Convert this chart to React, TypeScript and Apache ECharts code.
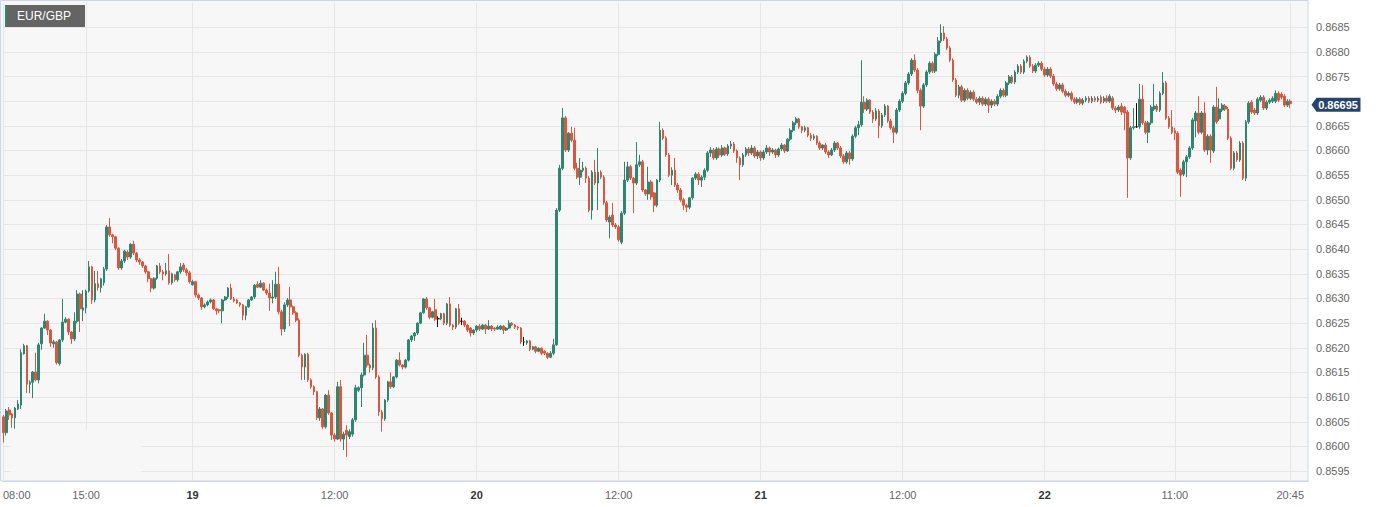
import { useEffect, useRef } from 'react';
import * as echarts from 'echarts';

const SYMBOL = 'EUR/GBP';
// Candle values are written in units of 0.00001 above BASE_PRICE: [open, close, low, high]
const BASE_PRICE = 0.86;
const LAST_PRICE = 0.86695;
const START_DAY = 18;
const START_MINUTE = 8 * 60;
const STEP_MINUTES = 15;
const PAD_SLOTS = 6;

const tickTimes = ['18 08:00', '18 15:00', '19 00:00', '19 12:00', '20 00:00', '20 12:00', '21 00:00', '21 12:00', '22 00:00', '22 11:00', '22 20:45'];
const tickLabels = ['08:00', '15:00', '19', '12:00', '20', '12:00', '21', '12:00', '22', '11:00', '20:45'];

const Y_MIN = 0.8593;
const Y_MAX = 0.86899;

const candles: number[][] = [
  [60,28,8,64],[28,72,22,76],[74,64,54,80],[66,58,38,68],[58,78,36,80],[76,86,74,94],[84,190,76,197],[188,204,186,208],[204,126,108,206],[126,130,108,134],
  [130,151,98,153],[151,135,132,190],[135,206,128,210],[208,240,196,242],[240,254,238,269],[254,236,226,256],[236,210,202,238],[208,212,200,216],[212,170,166,214],[168,216,164,218],
  [216,252,212,299],[252,258,250,262],[258,232,226,260],[232,218,208,234],[218,254,214,272],[254,309,250,317],[309,279,232,312],[276,281,254,317],[281,315,270,318],[315,364,312,376],
  [364,297,289,366],[297,330,292,356],[330,322,316,356],[322,340,312,342],[332,360,326,364],[360,445,356,449],[445,429,425,463],[429,425,412,431],[425,402,398,427],[402,362,358,404],
  [362,376,358,380],[376,396,372,399],[394,384,378,398],[384,410,380,412],[410,392,388,417],[392,378,374,394],[378,374,368,382],[374,366,362,376],[366,354,350,368],[354,340,333,356],
  [340,321,313,342],[321,341,318,343],[341,366,338,368],[366,354,350,372],[354,350,337,358],[350,356,346,372],[356,332,328,390],[332,350,328,352],[348,338,334,350],[338,354,334,356],
  [354,364,350,372],[368,358,354,372],[358,352,346,362],[352,334,330,356],[328,334,326,338],[334,307,302,336],[307,301,297,310],[301,283,277,303],[283,287,280,290],[287,293,284,296],
  [293,297,290,300],[297,279,277,299],[279,275,267,281],[277,275,270,279],[275,297,250,299],[297,303,295,305],[303,321,299,323],[321,299,297,330],[299,295,292,303],[297,291,289,299],
  [291,287,283,293],[287,266,256,289],[266,283,256,285],[283,297,281,299],[297,303,295,305],[303,327,299,329],[329,323,321,335],[323,331,321,337],[331,317,315,333],[317,311,307,320],
  [311,301,275,330],[301,303,290,337],[303,329,299,354],[329,273,268,364],[273,238,225,277],[238,287,232,292],[287,297,283,301],[297,283,244,323],[283,271,267,286],[271,256,252,274],
  [256,185,181,260],[185,161,135,188],[161,187,135,189],[187,135,131,190],[135,121,117,138],[121,111,104,124],[111,58,54,113],[58,76,52,80],[76,40,35,78],[40,104,36,106],
  [104,68,64,114],[68,23,13,70],[23,15,10,27],[15,121,13,131],[121,15,10,135],[15,25,-7,30],[33,23,-21,43],[20,30,15,35],[25,54,20,58],[54,119,50,125],
  [114,119,110,122],[119,145,80,150],[145,185,142,210],[185,165,160,226],[165,159,150,168],[159,240,155,250],[240,141,137,256],[141,70,62,144],[70,56,30,74],[56,94,52,96],
  [94,131,90,133],[131,121,117,150],[121,141,118,143],[141,175,138,177],[175,165,162,191],[165,161,156,167],[161,175,158,177],[175,216,172,218],[216,224,212,226],[224,230,214,232],
  [230,250,226,252],[250,271,248,273],[271,299,269,301],[299,281,277,303],[281,262,258,283],[262,273,260,275],[277,258,254,299],[259,259,242,264],[259,269,256,271],[269,250,246,271],
  [250,289,246,291],[289,246,242,303],[246,242,236,248],[242,279,238,281],[279,250,246,289],[254,254,246,261],[254,246,242,256],[246,236,232,248],[240,230,223,242],[230,236,226,238],
  [236,244,232,246],[244,238,234,248],[238,246,236,248],[246,238,228,248],[238,244,236,256],[244,238,234,246],[240,238,234,242],[238,242,236,246],[238,244,236,246],[244,236,228,246],
  [236,240,234,242],[240,250,238,256],[250,246,244,252],[246,242,238,248],[242,240,236,244],[240,212,208,242],[212,212,204,222],[210,214,206,216],[214,197,193,216],[197,202,195,204],
  [202,193,189,204],[193,199,191,201],[199,189,185,201],[193,189,185,195],[189,181,177,191],[181,189,179,193],[189,206,185,218],[206,479,204,483],[479,564,475,571],[564,666,560,686],
  [666,601,597,670],[601,635,597,637],[635,621,617,648],[621,564,560,646],[564,546,542,575],[546,560,530,585],[560,564,556,577],[564,544,534,568],[544,479,475,548],[479,556,460,560],
  [556,534,530,581],[534,556,479,605],[556,546,542,560],[546,494,490,550],[494,459,455,498],[455,465,422,469],[469,449,445,494],[449,445,441,453],[445,419,415,449],[414,473,410,477],
  [473,540,469,577],[540,567,536,577],[567,544,540,571],[544,534,473,546],[534,571,530,617],[571,577,567,591],[577,520,516,581],[520,512,508,522],[512,536,500,567],[536,506,500,540],
  [514,489,475,516],[489,540,485,542],[540,641,536,658],[641,625,621,645],[625,591,587,629],[591,550,546,595],[550,560,530,566],[560,530,526,585],[530,520,514,534],[520,500,496,524],
  [500,489,479,504],[489,485,475,492],[485,504,481,506],[504,544,500,546],[544,552,540,556],[552,540,530,556],[540,546,526,550],[546,560,540,564],[560,595,556,599],[595,601,587,607],
  [601,585,581,605],[585,603,581,607],[603,591,585,606],[591,605,587,611],[605,593,589,608],[593,609,589,613],[609,613,603,619],[613,599,595,617],[599,585,575,602],[585,571,540,588],
  [571,591,567,595],[591,603,587,607],[603,595,589,607],[595,605,591,611],[605,589,585,609],[589,597,583,601],[597,585,579,600],[585,597,581,601],[597,605,593,611],[605,597,589,608],
  [597,601,593,605],[601,591,585,604],[591,603,587,606],[603,611,599,615],[611,599,595,613],[599,623,597,625],[623,641,619,645],[641,656,637,660],[656,664,652,668],[664,648,644,666],
  [648,641,635,650],[641,646,637,650],[646,631,627,648],[631,625,619,635],[625,629,621,633],[629,615,611,631],[615,605,601,619],[605,611,601,613],[611,597,593,615],[597,591,585,600],
  [591,601,589,605],[601,615,597,619],[615,605,601,617],[605,589,585,609],[589,577,573,593],[577,595,573,599],[595,583,571,599],[583,629,579,633],[629,646,625,650],[646,652,631,660],
  [652,698,648,783],[698,684,676,710],[684,702,680,706],[702,678,674,704],[678,664,656,682],[664,680,660,686],[680,650,625,684],[650,672,646,676],[672,690,668,694],[690,660,656,692],
  [660,646,642,664],[646,637,615,650],[637,682,633,686],[682,700,678,704],[700,716,696,720],[716,737,712,741],[737,755,733,759],[755,783,751,787],[783,763,759,795],[763,722,716,767],
  [722,690,641,726],[690,733,686,737],[733,759,729,763],[759,777,755,781],[777,761,757,781],[761,795,757,799],[795,822,791,830],[822,838,818,856],[838,826,822,852],[826,808,804,830],
  [808,783,779,812],[783,743,739,787],[743,712,708,747],[712,729,706,733],[729,702,698,733],[702,722,698,726],[722,706,702,726],[706,718,702,722],[718,704,700,722],[704,698,694,708],
  [698,706,692,710],[706,694,690,710],[694,704,690,708],[704,692,676,708],[692,700,686,704],[700,694,690,704],[694,710,690,714],[710,722,706,726],[722,712,708,726],[712,737,708,741],
  [737,749,733,753],[749,739,735,753],[739,759,735,763],[759,771,755,775],[771,759,755,775],[759,781,755,785],[781,789,777,793],[789,771,767,793],[771,761,757,775],[761,773,757,777],
  [773,777,769,781],[777,765,761,781],[765,753,749,769],[753,765,749,769],[765,751,747,769],[751,735,731,755],[735,725,721,739],[725,733,721,737],[733,720,716,737],[720,712,708,724],
  [712,716,708,720],[716,704,700,720],[704,698,694,708],[698,704,694,708],[704,696,692,708],[696,702,692,706],[702,706,698,710],[706,700,696,710],[700,706,696,710],[706,702,698,710],
  [702,706,698,710],[708,698,694,712],[700,706,696,710],[706,700,696,712],[700,710,696,714],[706,686,682,710],[686,682,676,690],[682,688,678,692],[690,678,672,696],[688,676,641,690],
  [678,585,504,682],[585,646,581,650],[646,648,642,686],[648,648,646,696],[648,704,644,735],[704,656,652,733],[656,637,633,660],[637,656,615,660],[656,688,652,692],[684,690,680,735],
  [690,682,678,694],[682,716,678,720],[716,737,712,759],[737,666,662,741],[666,648,644,670],[648,637,633,682],[640,635,621,646],[635,556,552,639],[560,550,506,564],[552,577,548,581],
  [577,587,546,591],[587,605,583,609],[605,662,601,666],[660,676,627,680],[676,637,633,710],[637,676,633,680],[676,601,597,698],[601,629,591,633],[629,601,575,633],[599,688,595,692],
  [688,658,654,729],[664,684,660,706],[682,692,678,696],[690,684,680,694],[684,625,621,688],[625,564,560,629],[564,595,560,599],[595,581,577,599],[581,615,577,619],[615,544,540,619],
  [544,658,538,662],[658,696,654,700],[698,678,674,702],[682,676,672,686],[676,704,672,708],[702,708,698,712],[708,686,682,712],[686,698,682,702],[698,702,694,706],[700,706,696,710],
  [700,716,696,722],[716,702,698,720],[714,708,704,718],[710,692,688,714],[692,700,688,704],[700,695,686,704],
];

const UP = '#2e8670';
const DOWN = '#d9563f';
const NAVY = '#27446d';
const PLOT_BG = '#f7f7f7';
const GRID_LINE = '#e6e6e6';
const BORDER = '#ccd6eb';
const FONT = '"Liberation Sans", Arial, Helvetica, sans-serif';

const pad2 = (n: number) => String(n).padStart(2, '0');

const categories: string[] = [];
for (let i = 0; i < candles.length + PAD_SLOTS; i++) {
  const t = START_DAY * 1440 + START_MINUTE + STEP_MINUTES * i;
  const d = Math.floor(t / 1440);
  const m = t % 1440;
  categories.push(`${d} ${pad2(Math.floor(m / 60))}:${pad2(m % 60)}`);
}

const toPrice = (u: number) => Math.round((BASE_PRICE + u / 1e5) * 1e5) / 1e5;
const seriesData = candles.map(([o, c, l, h]) => [
  toPrice(o),
  toPrice(c),
  toPrice(Math.min(l, o, c)),
  toPrice(Math.max(h, o, c)),
]);

const tickSet = new Set(tickTimes);

export default function App() {
  const ref = useRef<HTMLDivElement>(null);

  useEffect(() => {
    if (!ref.current) return;
    const chart = echarts.init(ref.current, undefined, { renderer: 'svg' });
    const W = 1379;
    const H = 507;
    const gridRight = 71;
    const gridBottom = 26;
    const plotW = W - gridRight;
    const plotBottom = H - gridBottom;

    chart.setOption({
      animation: false,
      textStyle: { fontFamily: FONT },
      grid: { left: 0, right: gridRight, top: 3, bottom: gridBottom, containLabel: false },
      graphic: [
        {
          type: 'rect',
          z: -10,
          silent: true,
          shape: { x: 0.5, y: 0.5, width: plotW - 0.5, height: plotBottom - 0.5 },
          style: { fill: PLOT_BG, stroke: BORDER, lineWidth: 1 },
        },
        {
          type: 'rect',
          z: 1,
          silent: true,
          shape: { x: 11, y: 430, width: 130, height: plotBottom - 431 },
          style: { fill: PLOT_BG },
        },
        {
          type: 'rect',
          z: 100,
          silent: true,
          shape: { x: 5, y: 5, width: 80, height: 22 },
          style: { fill: '#646464' },
        },
        {
          type: 'rect',
          z: 101,
          silent: true,
          shape: { x: 5, y: 5, width: 2, height: 22 },
          style: { fill: UP },
        },
        {
          type: 'text',
          z: 102,
          silent: true,
          x: 17,
          y: 16,
          style: {
            text: SYMBOL,
            fill: '#ffffff',
            font: `12px ${FONT}`,
            verticalAlign: 'middle',
            align: 'left',
          },
        },
      ],
      xAxis: {
        type: 'category',
        data: categories,
        boundaryGap: false,
        axisLine: { show: true, lineStyle: { color: BORDER } },
        axisTick: { show: false },
        axisLabel: {
          interval: (_i: number, v: string) => tickSet.has(v),
          color: '#666',
          fontSize: 11,
          margin: 8,
          formatter: (v: string) => {
            const k = tickTimes.indexOf(v);
            if (k < 0) return '';
            const t = tickLabels[k];
            if (k === 0) return `{first|${t}}`;
            return t.includes(':') ? t : `{day|${t}}`;
          },
          rich: {
            first: { padding: [0, 0, 0, 27], color: '#666', fontSize: 11, fontFamily: FONT },
            day: { fontWeight: 'bold', color: '#333', fontSize: 11, fontFamily: FONT },
          },
        },
        splitLine: {
          show: true,
          interval: (_i: number, v: string) => tickSet.has(v),
          lineStyle: { color: GRID_LINE, width: 1 },
        },
      },
      yAxis: {
        type: 'value',
        position: 'right',
        min: Y_MIN,
        max: Y_MAX,
        splitNumber: 20,
        axisLine: { show: false },
        axisTick: { show: false },
        axisLabel: {
          color: '#666',
          fontSize: 11,
          margin: 8,
          showMinLabel: false,
          showMaxLabel: false,
          // the level under the last-price tag is not labelled
          formatter: (v: number) => (Math.abs(v - 0.867) < 1e-7 ? '' : v.toFixed(4)),
        },
        splitLine: {
          show: true,
          showMinLine: false,
          showMaxLine: false,
          lineStyle: { color: GRID_LINE, width: 1 },
        },
      },
      series: [
        {
          type: 'candlestick',
          data: seriesData,
          barWidth: 2.2,
          z: 2,
          itemStyle: {
            color: UP,
            color0: DOWN,
            borderColor: UP,
            borderColor0: DOWN,
            borderColorDoji: '#111',
            borderWidth: 1,
          },
          markLine: {
            silent: true,
            symbol: ['none', 'none'],
            label: { show: false },
            lineStyle: { color: NAVY, width: 1, type: 'solid' },
            data: [{ yAxis: LAST_PRICE }],
          },
          markPoint: {
            silent: true,
            symbol: 'path://M0,7L5,0L49,0L49,14L5,14Z',
            symbolSize: [49, 14],
            symbolOffset: [28, 1],
            itemStyle: { color: NAVY },
            label: {
              show: true,
              position: 'inside',
              formatter: LAST_PRICE.toFixed(5),
              color: '#fff',
              fontWeight: 'bold',
              fontSize: 11,
              offset: [2, 0],
            },
            data: [{ coord: [categories.length - 1, LAST_PRICE] }],
          },
        },
      ],
    });

    return () => chart.dispose();
  }, []);

  return (
    <div
      ref={ref}
      style={{ position: 'fixed', left: 0, top: 0, width: 1379, height: 507, background: '#fff' }}
    />
  );
}
